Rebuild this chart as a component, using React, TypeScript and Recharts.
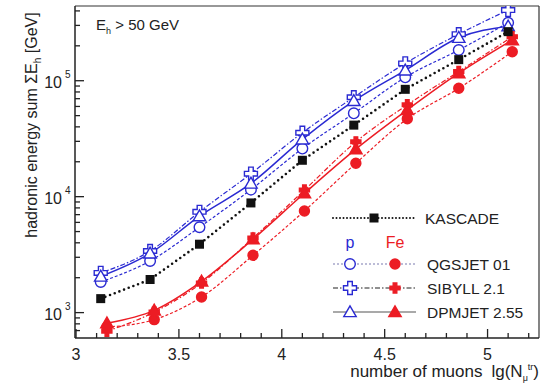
import React from "react"
import { LineChart, Line, XAxis, YAxis, ReferenceLine } from "recharts"

// muon number bins, lg(N_mu^tr)
const kascadeX = [3.12, 3.36, 3.6, 3.85, 4.1, 4.35, 4.6, 4.86, 5.1]
const protonX = [3.12, 3.36, 3.6, 3.85, 4.1, 4.35, 4.6, 4.86, 5.1]
const ironX = [3.15, 3.38, 3.61, 3.86, 4.11, 4.36, 4.61, 4.86, 5.12]

// hadronic energy sum [GeV]
const kascade = [1320, 1930, 3890, 8830, 20600, 41400, 84300, 152000, 265000]
const qgsjetP = [1840, 2790, 5450, 11500, 26000, 52300, 107000, 184000, 316000]
const sibyllP = [2200, 3400, 7400, 15800, 35600, 72000, 141000, 252000, 407000]
const dpmjetP = [2050, 3240, 6800, 13000, 31200, 67000, 123000, 235000, 295000]
const qgsjetFe = [750, 870, 1365, 3120, 7530, 19400, 47000, 86000, 178000]
const sibyllFe = [690, 1010, 1800, 4400, 11400, 29700, 62000, 120000, 240000]
const dpmjetFe = [810, 1046, 1860, 4300, 10700, 25700, 56000, 116000, 224000]

const xTicks = [3, 3.1, 3.2, 3.3, 3.4, 3.5, 3.6, 3.7, 3.8, 3.9, 4, 4.1, 4.2, 4.3, 4.4, 4.5, 4.6, 4.7, 4.8, 4.9, 5, 5.1, 5.2]
const xLabels = ["3", "3.5", "4", "4.5", "5"]
const yTicks = [
  700, 800, 900, 1000, 2000, 3000, 4000, 5000, 6000, 7000, 8000, 9000,
  10000, 20000, 30000, 40000, 50000, 60000, 70000, 80000, 90000,
  100000, 200000, 300000, 400000,
]
const yMajor = [1000, 10000, 100000]

const BLUE = "#2a2ad2"
const RED = "#ec1c24"
const FONT = "'Liberation Sans', Arial, sans-serif"

const pts = (xs: number[], ys: number[]) => xs.map((x, i) => ({ x, y: ys[i] }))

type Shape = "square" | "circle" | "plus" | "triangle"

function Marker({ shape, cx, cy, color, filled }: { shape: Shape; cx: number; cy: number; color: string; filled: boolean }) {
  const fill = filled ? color : "#fff"
  const sw = 1.4
  if (shape === "square") return <rect x={cx - 4.5} y={cy - 4.5} width={9} height={9} fill={color} />
  if (shape === "circle") return <circle cx={cx} cy={cy} r={filled ? 5 : 5.3} fill={fill} stroke={color} strokeWidth={sw} />
  if (shape === "triangle") {
    const s = 6.2
    return (
      <polygon
        points={`${cx},${cy - s} ${cx - s},${cy + s * 0.75} ${cx + s},${cy + s * 0.75}`}
        fill={fill}
        stroke={color}
        strokeWidth={sw}
      />
    )
  }
  // plus
  const a = filled ? 5 : 6.5
  const b = filled ? 1.8 : 2.3
  const d = `M${cx - b},${cy - a} h${2 * b} v${a - b} h${a - b} v${2 * b} h${-(a - b)} v${a - b} h${-2 * b} v${-(a - b)} h${-(a - b)} v${-2 * b} h${a - b} z`
  return <path d={d} fill={fill} stroke={color} strokeWidth={sw} />
}

const dot = (shape: Shape, color: string, filled: boolean) => (props: any) => {
  const { cx, cy, index } = props
  return <Marker key={index} shape={shape} cx={cx} cy={cy} color={color} filled={filled} />
}

function XTick(props: any) {
  const { x, y, payload } = props
  const v = payload.value as number
  const major = Math.abs(v * 2 - Math.round(v * 2)) < 1e-6
  return (
    <g>
      <line x1={x} y1={y} x2={x} y2={y - (major ? 9 : 5)} stroke="#222" strokeWidth={1.3} />
      {major && (
        <text x={x} y={y + 22} textAnchor="middle" fontSize={16} fill="#222" fontFamily={FONT}>
          {xLabels[Math.round((v - 3) * 2)]}
        </text>
      )}
    </g>
  )
}

function YTick(props: any) {
  const { x, y, payload } = props
  const v = payload.value as number
  const mi = yMajor.indexOf(v)
  return (
    <g>
      <line x1={x} y1={y} x2={x + (mi >= 0 ? 9 : 5)} y2={y} stroke="#222" strokeWidth={1.3} />
      {mi >= 0 && (
        <text x={x - 13} y={y + 7} textAnchor="end" fontSize={16} fill="#222" fontFamily={FONT}>
          10
        </text>
      )}
      {mi >= 0 && (
        <text x={x - 10} y={y - 3} textAnchor="start" fontSize={10} fill="#222" fontFamily={FONT}>
          {3 + mi}
        </text>
      )}
    </g>
  )
}

const legendRows = [
  { label: "QGSJET 01", shape: "circle" as Shape, line: "#7a7ab0", dash: "2 2", y: 264 },
  { label: "SIBYLL 2.1", shape: "plus" as Shape, line: "#222", dash: "5 2 1.5 2", y: 288 },
  { label: "DPMJET 2.55", shape: "triangle" as Shape, line: "#555", dash: undefined, y: 312 },
]

export default function App() {
  return (
    <div style={{ position: "fixed", left: 0, top: 0, width: 549, height: 383, background: "#fff", fontFamily: FONT }}>
      <LineChart width={549} height={383} margin={{ top: 6, right: 10, bottom: 0, left: 0 }}>
        <XAxis
          type="number"
          dataKey="x"
          domain={[2.995, 5.25]}
          ticks={xTicks}
          interval={0}
          allowDataOverflow
          height={45}
          tickSize={0}
          tickMargin={0}
          tickLine={false}
          tick={<XTick />}
          axisLine={{ stroke: "#222", strokeWidth: 1.5 }}
        />
        <YAxis
          type="number"
          dataKey="y"
          scale="log"
          domain={[604, 441000]}
          ticks={yTicks}
          interval={0}
          allowDataOverflow
          width={75}
          tickSize={0}
          tickMargin={0}
          tickLine={false}
          tick={<YTick />}
          axisLine={{ stroke: "#222", strokeWidth: 1.5 }}
        />
        <ReferenceLine y={441000} stroke="#333" strokeWidth={1.2} />
        <ReferenceLine x={5.25} stroke="#333" strokeWidth={1.2} />

        <Line data={pts(protonX, qgsjetP)} dataKey="y" type="monotone" stroke={BLUE} strokeWidth={1.2} strokeDasharray="3 2" dot={dot("circle", BLUE, false)} isAnimationActive={false} />
        <Line data={pts(protonX, sibyllP)} dataKey="y" type="monotone" stroke={BLUE} strokeWidth={1.2} strokeDasharray="5 2 1.5 2" dot={dot("plus", BLUE, false)} isAnimationActive={false} />
        <Line data={pts(protonX, dpmjetP)} dataKey="y" type="monotone" stroke={BLUE} strokeWidth={1.5} dot={dot("triangle", BLUE, false)} isAnimationActive={false} />

        <Line data={pts(ironX, qgsjetFe)} dataKey="y" type="monotone" stroke={RED} strokeWidth={1.2} strokeDasharray="3 2" dot={dot("circle", RED, true)} isAnimationActive={false} />
        <Line data={pts(ironX, sibyllFe)} dataKey="y" type="monotone" stroke={RED} strokeWidth={1.2} strokeDasharray="5 2 1.5 2" dot={dot("plus", RED, true)} isAnimationActive={false} />
        <Line data={pts(ironX, dpmjetFe)} dataKey="y" type="monotone" stroke={RED} strokeWidth={1.5} dot={dot("triangle", RED, true)} isAnimationActive={false} />

        <Line data={pts(kascadeX, kascade)} dataKey="y" type="linear" stroke="#111" strokeWidth={2.6} strokeDasharray="0 5" strokeLinecap="round" dot={dot("square", "#111", true)} isAnimationActive={false} />
      </LineChart>

      {/* labels and legend */}
      <svg width={549} height={383} style={{ position: "absolute", left: 0, top: 0, pointerEvents: "none" }}>
        <text x={96} y={30} fontSize={15} fill="#222" fontFamily={FONT}>
          E<tspan fontSize={9} dy={4}>h</tspan>
          <tspan dy={-4}> &gt; 50 GeV</tspan>
        </text>

        <text transform="translate(37,125) rotate(-90)" textAnchor="middle" fontSize={16} fill="#222" fontFamily={FONT}>
          hadronic energy sum ΣE<tspan fontSize={10} dy={4}>h</tspan>
          <tspan dy={-4}> [GeV]</tspan>
        </text>

        <text x={539} y={377} textAnchor="end" fontSize={17} fill="#222" fontFamily={FONT}>
          number of muons
          <tspan dx={9}>lg(N</tspan>
          <tspan fontSize={9} dy={4}>μ</tspan>
          <tspan fontSize={9} dy={-11}>tr</tspan>
          <tspan dy={7}>)</tspan>
        </text>

        <line x1={333} y1={218} x2={414} y2={218} stroke="#111" strokeWidth={2} strokeDasharray="0 3.5" strokeLinecap="round" />
        <Marker shape="square" cx={374} cy={218} color="#111" filled />
        <text x={425} y={224} fontSize={15.5} fill="#222" fontFamily={FONT}>KASCADE</text>

        <text x={350} y={248} textAnchor="middle" fontSize={16} fill={BLUE} fontFamily={FONT}>p</text>
        <text x={395} y={248} textAnchor="middle" fontSize={16} fill={RED} fontFamily={FONT}>Fe</text>

        {legendRows.map((r) => (
          <g key={r.label}>
            <line x1={333} y1={r.y} x2={416} y2={r.y} stroke={r.line} strokeWidth={1.2} strokeDasharray={r.dash} />
            <Marker shape={r.shape} cx={350} cy={r.y} color={BLUE} filled={false} />
            <Marker shape={r.shape} cx={395} cy={r.y} color={RED} filled />
            <text x={427} y={r.y + 6} fontSize={15.5} fill="#222" fontFamily={FONT}>{r.label}</text>
          </g>
        ))}
      </svg>
    </div>
  )
}
